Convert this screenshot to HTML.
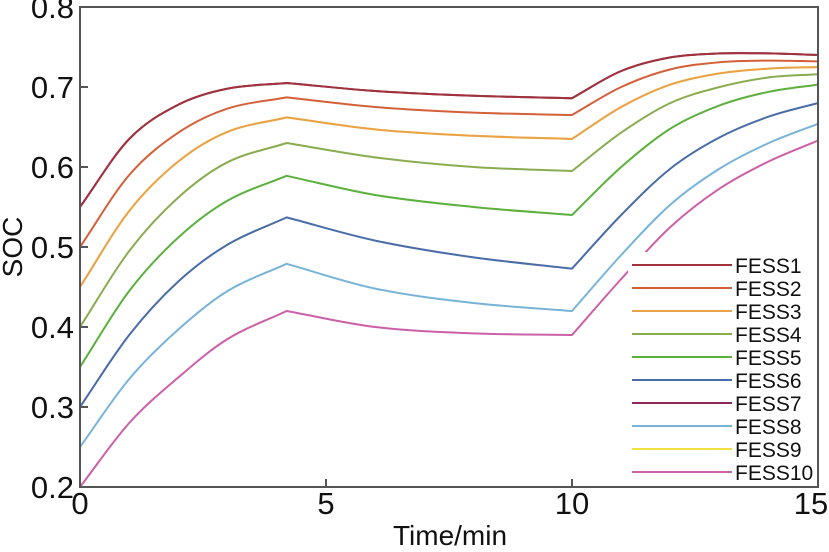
<!DOCTYPE html>
<html><head><meta charset="utf-8"><style>
body{margin:0;background:#fff}
svg text{font-family:"Liberation Sans",Arial,sans-serif;fill:#111}
</style></head><body>
<svg id="chart" width="829" height="547" xmlns="http://www.w3.org/2000/svg"></svg>
<script>
const times=[0,1,2,3,4.2,6,8,10,11,12,13,14,15];
const seriesNames=["FESS1","FESS2","FESS3","FESS4","FESS5","FESS6","FESS7","FESS8","FESS9","FESS10"];
const fess1=[0.55,0.635,0.678,0.698,0.705,0.695,0.689,0.686,0.72,0.737,0.742,0.742,0.740];
const fess2=[0.50,0.59,0.643,0.673,0.687,0.675,0.668,0.665,0.70,0.722,0.731,0.733,0.732];
const fess3=[0.45,0.545,0.607,0.644,0.662,0.647,0.639,0.635,0.675,0.703,0.717,0.723,0.725];
const fess4=[0.40,0.495,0.562,0.606,0.630,0.612,0.600,0.595,0.643,0.680,0.700,0.712,0.716];
const fess5=[0.35,0.445,0.512,0.558,0.589,0.565,0.550,0.540,0.60,0.648,0.677,0.694,0.703];
const fess6=[0.30,0.39,0.457,0.503,0.537,0.508,0.487,0.473,0.54,0.598,0.637,0.663,0.680];
const fess7=[0.55,0.635,0.678,0.698,0.705,0.695,0.689,0.686,0.72,0.737,0.742,0.742,0.740];
const fess8=[0.25,0.335,0.397,0.445,0.479,0.448,0.430,0.420,0.49,0.553,0.598,0.630,0.654];
const fess9=[0.45,0.545,0.607,0.644,0.662,0.647,0.639,0.635,0.675,0.703,0.717,0.723,0.725];
const fess10=[0.20,0.28,0.337,0.385,0.420,0.400,0.392,0.390,0.46,0.525,0.573,0.607,0.633];
const xTicks=[0,5,10,15];
const yTicks=[0.2,0.3,0.4,0.5,0.6,0.7,0.8];
const allSeries=[fess1,fess2,fess3,fess4,fess5,fess6,fess7,fess8,fess9,fess10];
const colors=["#a0323c","#d4603a","#eaa24a","#8aac50","#5cb03c","#4a6ca8","#8a2a5a","#78b4d8","#f0e040","#cc60a8"];
const L=80,R=818,T=7,B=487;
const xs=t=>L+(t-0)/15*(R-L);
const ys=v=>B-(v-0.2)/0.6*(B-T);
const svg=document.getElementById('chart');
const NS="http://www.w3.org/2000/svg";
function mk(tag,attrs){const e=document.createElementNS(NS,tag);for(const k in attrs)e.setAttribute(k,attrs[k]);svg.appendChild(e);return e;}
function isKink(t){return t===4.2||t===10;}
function pathFor(vals){
  const p=vals.map((v,i)=>[xs(times[i]),ys(v)]);
  let d=`M${p[0][0]},${p[0][1]}`;
  for(let i=0;i<p.length-1;i++){
    const p1=p[i],p2=p[i+1];
    // tangent at p1
    let m1,m2;
    if(i===0||isKink(times[i])) m1=(p2[1]-p1[1])/(p2[0]-p1[0]);
    else {const p0=p[i-1];m1=(p2[1]-p0[1])/(p2[0]-p0[0]);}
    if(i+1===p.length-1||isKink(times[i+1])) m2=(p2[1]-p1[1])/(p2[0]-p1[0]);
    else {const p3=p[i+2];m2=(p3[1]-p1[1])/(p3[0]-p1[0]);}
    const dx=(p2[0]-p1[0])/3;
    d+=` C${p1[0]+dx},${p1[1]+m1*dx} ${p2[0]-dx},${p2[1]-m2*dx} ${p2[0]},${p2[1]}`;
  }
  return d;
}
const order=[6,8,0,1,2,3,4,5,7,9];
order.forEach(i=>{
  const e=mk('path',{d:pathFor(allSeries[i]),fill:'none',stroke:colors[i],'stroke-width':2});
  
  
});
const frame=mk('rect',{x:L,y:T,width:R-L,height:B-T,fill:'none',stroke:'#555','stroke-width':2});


yTicks.forEach(v=>{
  const y=ys(v);
  const tk=mk('line',{x1:L,x2:L+8,y1:y,y2:y,stroke:'#555','stroke-width':2});
  
  
  const t=mk('text',{x:74,y:y+11,'text-anchor':'end','font-size':31});
  t.textContent=v.toFixed(1);
  
  
});
xTicks.forEach(v=>{
  const x=xs(v);
  const tk=mk('line',{x1:x,x2:x,y1:B,y2:B-8,stroke:'#555','stroke-width':2});
  
  
  const t=mk('text',{x:v===15?811:x,y:514,'text-anchor':'middle','font-size':31});
  t.textContent=v;
  
  
});
const xt=mk('text',{x:450,y:545,'text-anchor':'middle','font-size':28});
xt.textContent='Time/min';


const yt=mk('text',{x:0,y:0,'text-anchor':'middle','font-size':28,transform:'translate(22,247) rotate(-90)'});
yt.textContent='SOC';


const lb=mk('rect',{x:628,y:252,width:189,height:234,fill:'#fff'});


seriesNames.forEach((n,i)=>{
  const y=265+i*23;
  const ln=mk('line',{x1:632,x2:732,y1:y,y2:y,stroke:colors[i],'stroke-width':2});
  
  
  const t=mk('text',{x:735,y:y+8,'font-size':21});
  t.textContent=n;
  
  
});
</script>
</body></html>
